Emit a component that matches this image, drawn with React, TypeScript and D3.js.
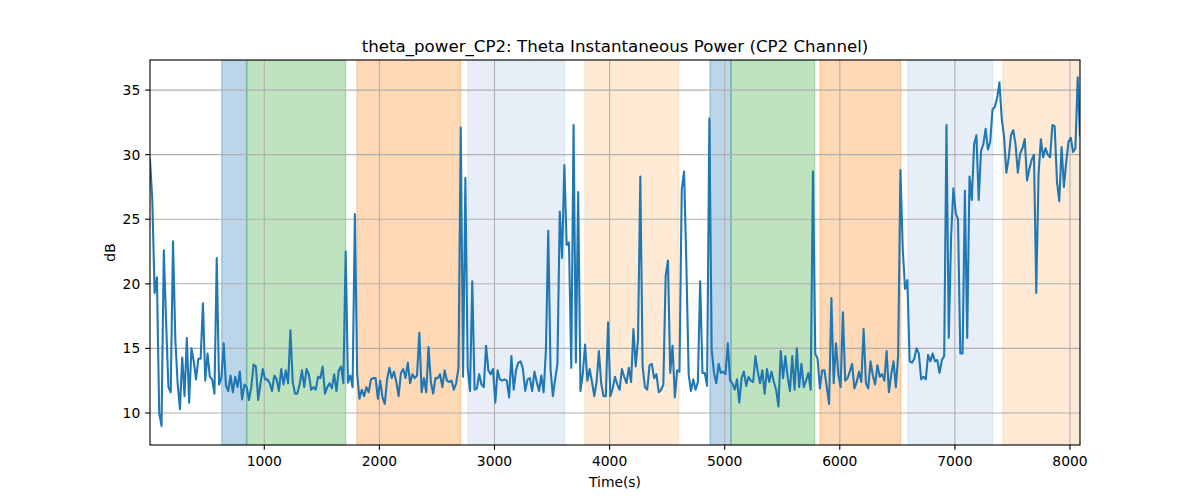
import React from "react";
import * as d3 from "d3";

// theta power (dB), sampled every 20 s
const values: number[] = [
  29.6, 26.5, 19.3, 20.5, 10.0, 9.0, 22.6, 17.0, 12.0, 11.6,
  23.3, 15.7, 12.3, 10.3, 14.3, 11.3, 15.8, 10.8, 15.0, 14.0,
  12.6, 14.2, 14.2, 18.5, 12.5, 14.6, 12.8, 12.6, 11.5, 22.0,
  12.2, 12.7, 15.4, 12.1, 11.7, 12.9, 11.6, 12.8, 12.0, 13.2,
  11.05, 12.2, 12.0, 11.0, 12.0, 13.75, 13.6, 11.0, 12.3, 13.4,
  12.6, 12.6, 12.3, 11.7, 12.9, 12.6, 11.7, 13.4, 12.2, 13.3,
  12.3, 16.4, 12.4, 11.5, 11.5, 12.2, 13.3, 12.0, 13.4, 13.0,
  11.8, 12.0, 11.8, 12.8, 12.7, 13.6, 11.5, 12.0, 12.3, 11.9,
  13.0, 11.7, 13.3, 13.6, 12.3, 22.5, 12.35, 12.9, 12.0, 25.4,
  13.0, 11.1, 11.8, 11.3, 12.0, 11.6, 12.6, 12.7, 12.7, 11.1,
  // 100
  12.5, 11.2, 10.7, 12.6, 13.5, 12.7, 13.2, 12.4, 11.3, 13.1,
  13.4, 12.7, 13.9, 12.3, 13.0, 12.7, 12.9, 16.2, 11.6, 12.7,
  11.6, 15.1, 12.4, 11.5, 12.7, 12.7, 13.0, 12.0, 13.3, 12.5,
  12.4, 12.5, 11.8, 12.3, 13.5, 32.1, 12.8, 28.2, 13.5, 11.7,
  20.2, 11.8, 11.9, 13.0, 12.2, 12.0, 15.2, 13.3, 13.0, 13.4,
  10.8, 13.3, 12.6, 12.5, 12.6, 12.5, 11.2, 14.4, 11.8, 13.3,
  13.9, 14.0, 13.4, 11.7, 12.6, 12.7, 11.7, 13.2, 12.4, 11.7,
  12.9, 11.6, 14.9, 24.1, 13.4, 11.3, 12.6, 13.8, 25.6, 22.0,
  29.2, 23.0, 23.2, 13.5, 32.3, 13.9, 27.1, 11.7, 13.0, 15.3,
  12.5, 13.4, 12.4, 11.3, 12.4, 14.8, 12.3, 11.3, 11.3, 17.0,
  // 200
  11.3, 11.9, 12.8, 12.2, 11.8, 13.4, 12.8, 12.3, 13.5, 12.4,
  16.5, 13.6, 15.7, 28.3, 13.6, 12.0, 11.8, 13.7, 13.8, 12.7,
  13.0, 11.6, 11.8, 12.2, 20.6, 21.8, 13.1, 15.2, 11.2, 13.3,
  13.2, 27.3, 28.7, 21.5, 13.0, 11.7, 12.6, 11.8, 12.4, 20.2,
  13.1, 13.1, 12.1, 32.8, 14.9, 13.1, 12.3, 13.8, 13.1, 13.2,
  13.0, 15.4, 12.5, 12.3, 11.8, 12.6, 10.8, 12.7, 13.2, 12.1,
  12.8, 12.5, 12.4, 14.4, 13.2, 12.3, 13.3, 11.5, 13.4, 12.4,
  13.2, 12.4, 11.8, 10.5, 14.8, 12.7, 14.4, 12.8, 11.7, 14.4,
  11.8, 15.0, 12.0, 13.8, 12.0, 12.5, 13.1, 11.8, 28.7, 14.6,
  14.2, 11.9, 13.3, 13.3, 12.0, 10.7, 18.9, 12.3, 15.4, 13.0,
  // 300
  12.0, 17.8, 12.5, 12.7, 13.2, 13.8, 11.9, 12.4, 13.2, 12.4,
  16.5, 12.3, 11.9, 14.0, 12.9, 12.2, 13.7, 12.8, 13.0, 12.5,
  14.8, 11.6, 13.0, 14.0, 12.0, 14.4, 28.8, 22.7, 19.6, 20.3,
  14.0, 13.9, 14.2, 15.0, 14.6, 12.6, 12.8, 12.6, 14.5, 14.0,
  14.6, 14.0, 14.1, 13.1, 14.1, 14.4, 32.3, 15.8, 23.6, 27.4,
  25.5, 25.0, 14.6, 14.6, 27.2, 15.8, 28.3, 26.5, 30.8, 31.5,
  26.5, 30.3, 30.8, 32.0, 30.4, 31.0, 33.5, 33.7, 34.4, 35.6,
  32.8, 31.4, 28.6, 29.7, 31.5, 31.9, 30.8, 28.6, 30.1, 30.5,
  31.2, 28.0, 28.9, 29.6, 30.0, 19.3, 28.5, 31.2, 29.8, 30.5,
  30.0, 29.8, 32.3, 32.2, 27.9, 26.4, 30.6, 27.5, 29.4, 31.0,
  31.3, 30.2, 30.5, 36.0, 31.5,
];
const T0 = 7;
const STEP = 20;
const times = values.map((_, i) => T0 + i * STEP);

const xTicks = [1000, 2000, 3000, 4000, 5000, 6000, 7000, 8000];
const yTicks = [10, 15, 20, 25, 30, 35];

const bandStarts = [630, 847, 1805, 2770, 3786, 4872, 5055, 5828, 6592, 7418];
const bandEnds = [847, 1707, 2706, 3610, 4600, 5055, 5782, 6529, 7328, 8087];
const bandColors = [
  "#1f77b4", "#2ca02c", "#ff7f0e", "#aec7e8", "#ffbb78",
  "#1f77b4", "#2ca02c", "#ff7f0e", "#aec7e8", "#ffbb78",
];

const title = "theta_power_CP2: Theta Instantaneous Power (CP2 Channel)";
const xLabel = "Time(s)";
const yLabel = "dB";

const W = 1200, H = 500;
const L = 150, R = 1080, TOP = 60, BOT = 445;
const FONT = "DejaVu Sans, sans-serif";
const PT = 100 / 72;

export default function App() {
  const x = d3.scaleLinear().domain([T0, T0 + (values.length - 1) * STEP]).range([L, R]);
  const y = d3.scaleLinear().domain([7.52, 37.33]).range([BOT, TOP]);
  const line = d3
    .line<number>()
    .x((_, i) => x(times[i]))
    .y((d) => y(d));
  const path = line(values) || "";

  return (
    <svg
      width={W}
      height={H}
      style={{ position: "absolute", left: 0, top: 0, background: "#fff" }}
      fontFamily={FONT}
    >
      <defs>
        <clipPath id="plot">
          <rect x={L} y={TOP} width={R - L} height={BOT - TOP} />
        </clipPath>
      </defs>
      <rect x={0} y={0} width={W} height={H} fill="#fff" />
      <g clipPath="url(#plot)">
        {bandStarts.map((s, i) => (
          <rect
            key={"b" + i}
            x={x(s)}
            y={TOP}
            width={x(bandEnds[i]) - x(s)}
            height={BOT - TOP}
            fill={bandColors[i]}
            fillOpacity={0.3}
            stroke={bandColors[i]}
            strokeOpacity={0.3}
            strokeWidth={PT}
          />
        ))}
        {xTicks.map((t) => (
          <line key={"gx" + t} x1={x(t)} x2={x(t)} y1={TOP} y2={BOT} stroke="#b0b0b0" strokeWidth={0.8 * PT} />
        ))}
        {yTicks.map((t) => (
          <line key={"gy" + t} x1={L} x2={R} y1={y(t)} y2={y(t)} stroke="#b0b0b0" strokeWidth={0.8 * PT} />
        ))}
        <path d={path} fill="none" stroke="#1f77b4" strokeWidth={1.5 * PT} strokeLinejoin="round" strokeLinecap="square" />
      </g>
      <rect x={L} y={TOP} width={R - L} height={BOT - TOP} fill="none" stroke="#000" strokeWidth={0.8 * PT} />
      {xTicks.map((t) => (
        <g key={"tx" + t}>
          <line x1={x(t)} x2={x(t)} y1={BOT} y2={BOT + 3.5 * PT} stroke="#000" strokeWidth={0.8 * PT} />
          <text x={x(t)} y={466} textAnchor="middle" fontSize={13.89} fill="#000">
            {t}
          </text>
        </g>
      ))}
      {yTicks.map((t) => (
        <g key={"ty" + t}>
          <line x1={L - 3.5 * PT} x2={L} y1={y(t)} y2={y(t)} stroke="#000" strokeWidth={0.8 * PT} />
          <text x={L - 7 * PT} y={y(t)} dy="0.36em" textAnchor="end" fontSize={13.89} fill="#000">
            {t}
          </text>
        </g>
      ))}
      <text x={(L + R) / 2} y={487} textAnchor="middle" fontSize={13.89} fill="#000">
        {xLabel}
      </text>
      <text
        transform={`translate(115, ${(TOP + BOT) / 2}) rotate(-90)`}
        textAnchor="middle"
        fontSize={13.89}
        fill="#000"
      >
        {yLabel}
      </text>
      <text x={(L + R) / 2} y={52} textAnchor="middle" fontSize={16.67} fill="#000">
        {title}
      </text>
    </svg>
  );
}
